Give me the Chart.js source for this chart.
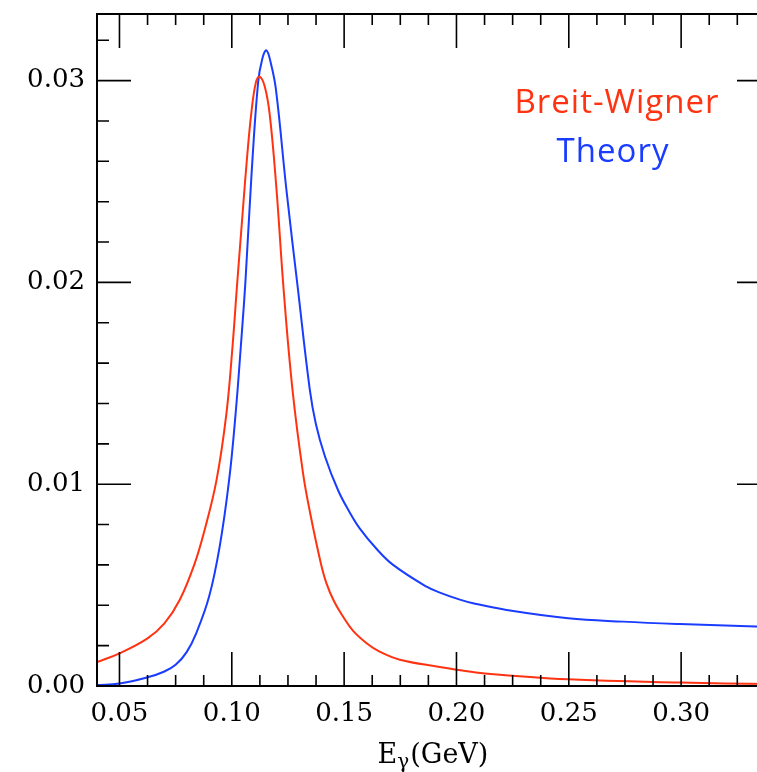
<!DOCTYPE html>
<html>
<head>
<meta charset="utf-8">
<script src="https://cdn.jsdelivr.net/npm/chart.js@4/dist/chart.umd.min.js"></script>
<style>
html,body{margin:0;padding:0;background:#fff;overflow:hidden;width:757px;height:772px;}
#wrap{position:absolute;left:0;top:0;width:771px;height:772px;}
</style>
</head>
<body>
<div id="wrap"><canvas id="c" width="771" height="772"></canvas></div>
<script>
// Breit-Wigner curve (E_gamma in GeV, value)
const bwE   = [0.040, 0.050, 0.0625, 0.0700, 0.0768, 0.0835, 0.0879, 0.0932, 0.0976, 0.1003, 0.1023, 0.1050, 0.1068, 0.1087, 0.1107, 0.1124, 0.1147, 0.1169, 0.1199, 0.1231, 0.1270, 0.1317, 0.1350, 0.1396, 0.1421, 0.1455, 0.1495, 0.1540, 0.1600, 0.1658, 0.1748, 0.1926, 0.2000, 0.2126, 0.2497, 0.2994, 0.3400];
const bwVal = [0.00118, 0.00162, 0.00236, 0.00310, 0.00426, 0.00608, 0.00773, 0.0102, 0.0135, 0.0168, 0.0198, 0.0237, 0.0262, 0.0284, 0.0299, 0.0302, 0.0297, 0.0283, 0.0246, 0.0196, 0.0147, 0.01055, 0.0085, 0.0061, 0.0051, 0.0042, 0.00344, 0.00273, 0.00212, 0.0017, 0.0013, 0.00094, 0.00081, 0.00062, 0.00033, 0.00017, 0.00010];
// Theory curve
const thE   = [0.040, 0.050, 0.0625, 0.0700, 0.075, 0.0799, 0.0843, 0.0899, 0.0946, 0.0988, 0.1017, 0.1040, 0.1061, 0.1087, 0.1117, 0.1136, 0.1154, 0.1173, 0.1196, 0.1243, 0.1295, 0.1347, 0.1374, 0.1414, 0.1473, 0.1525, 0.1570, 0.1644, 0.1718, 0.1867, 0.1926, 0.2015, 0.2074, 0.2223, 0.2497, 0.2742, 0.2994, 0.3400];
const thVal = [0.00005, 0.00012, 0.00043, 0.00072, 0.00105, 0.00168, 0.00265, 0.00443, 0.00691, 0.0102, 0.0135, 0.0168, 0.0201, 0.0252, 0.0299, 0.0311, 0.0315, 0.0309, 0.0296, 0.0246, 0.0196, 0.0147, 0.0130, 0.0114, 0.0097, 0.0086, 0.0078, 0.00680, 0.00600, 0.00492, 0.00463, 0.00428, 0.0041, 0.00377, 0.00336, 0.00319, 0.00307, 0.00292];
// Axis settings
const xTicks = [0.05, 0.10, 0.15, 0.20, 0.25, 0.30];
const yTicks = [0.00, 0.01, 0.02, 0.03];
const seriesNames = ["Breit-Wigner", "Theory"];
const seriesColors = ["#ff3311", "#1a3cff"];

const X_MIN = 0.04, X_MAX = 0.34, Y_MIN = 0, Y_MAX = 0.0333;
const FONT = "'DejaVu Serif', serif";

const frame = {
  id: 'frame',
  afterDraw(chart) {
    const ctx = chart.ctx, a = chart.chartArea;
    const xs = chart.scales.x, ys = chart.scales.y;
    ctx.save();
    ctx.strokeStyle = '#000';
    ctx.lineWidth = 2;
    ctx.beginPath();
    ctx.rect(a.left, a.top, a.right - a.left, a.bottom - a.top);
    ctx.stroke();
    ctx.lineWidth = 1.6;
    ctx.beginPath();
    for (let k = 0; k * 0.0125 <= X_MAX + 1e-9; k++) {
      const v = k * 0.0125;
      if (v < X_MIN - 1e-9) continue;
      const major = (k % 4 === 0);
      const L = major ? 34 : 11;
      const px = xs.getPixelForValue(v);
      ctx.moveTo(px, a.bottom); ctx.lineTo(px, a.bottom - L);
      ctx.moveTo(px, a.top); ctx.lineTo(px, a.top + L);
    }
    for (let k = 0; k * 0.002 <= Y_MAX + 1e-9; k++) {
      const v = k * 0.002;
      const major = (k % 5 === 0);
      const L = major ? 34 : 12;
      const py = ys.getPixelForValue(v);
      ctx.moveTo(a.left, py); ctx.lineTo(a.left + L, py);
      ctx.moveTo(a.right, py); ctx.lineTo(a.right - L, py);
    }
    ctx.stroke();
    // axis title E_gamma(GeV)
    ctx.fillStyle = '#000';
    ctx.textBaseline = 'alphabetic';
    ctx.textAlign = 'left';
    const mainF = "27px " + FONT, subF = "20px " + FONT;
    ctx.font = mainF; const wE = ctx.measureText('E').width;
    ctx.font = subF; const wg = ctx.measureText('γ').width;
    ctx.font = mainF; const wR = ctx.measureText('(GeV)').width;
    const total = wE + wg + wR + 1;
    const x0 = 433 - total / 2;
    const base = 763;
    ctx.font = mainF; ctx.fillText('E', x0, base);
    ctx.font = subF; ctx.fillText('γ', x0 + wE, base + 5);
    ctx.font = mainF; ctx.fillText('(GeV)', x0 + wE + wg + 1, base);
    // legend text
    ctx.textAlign = 'center';
    ctx.font = "33px 'Open Sans', sans-serif";
    try { ctx.letterSpacing = '1px'; } catch (e) {}
    ctx.fillStyle = seriesColors[0];
    ctx.fillText(seriesNames[0], 617, 113);
    ctx.fillStyle = seriesColors[1];
    ctx.fillText(seriesNames[1], 613, 162);
    ctx.restore();
  }
};

const mk = (xs, ys) => xs.map((x, i) => ({x: x, y: ys[i]}));

new Chart(document.getElementById('c'), {
  type: 'line',
  data: {
    datasets: [
      {label: seriesNames[0], data: mk(bwE, bwVal), borderColor: seriesColors[0], borderWidth: 2, pointRadius: 0, tension: 0.4, fill: false},
      {label: seriesNames[1], data: mk(thE, thVal), borderColor: seriesColors[1], borderWidth: 2, pointRadius: 0, tension: 0.4, fill: false}
    ]
  },
  options: {
    responsive: false,
    animation: false,
    layout: {padding: {top: 14, right: 0, left: 0, bottom: 0}},
    plugins: {legend: {display: false}, tooltip: {enabled: false}, title: {display: false}},
    scales: {
      x: {
        type: 'linear', min: X_MIN, max: X_MAX,
        grid: {display: false, drawTicks: false},
        border: {display: false},
        afterFit(s) { s.height = 86; s.paddingLeft = 0; s.paddingRight = 0; },
        afterBuildTicks(s) { s.ticks = xTicks.map(v => ({value: v})); },
        ticks: {padding: 13, color: '#000', font: {family: FONT, size: 26}, maxRotation: 0, autoSkip: false,
          callback: v => v.toFixed(2)}
      },
      y: {
        type: 'linear', min: Y_MIN, max: Y_MAX,
        grid: {display: false, drawTicks: false},
        border: {display: false},
        afterFit(s) { s.width = 97; s.paddingTop = 0; s.paddingBottom = 0; },
        afterBuildTicks(s) { s.ticks = yTicks.map(v => ({value: v})); },
        ticks: {padding: 12, color: '#000', font: {family: FONT, size: 26}, autoSkip: false,
          callback: v => v.toFixed(2)}
      }
    }
  },
  plugins: [frame]
});
</script>
</body>
</html>
